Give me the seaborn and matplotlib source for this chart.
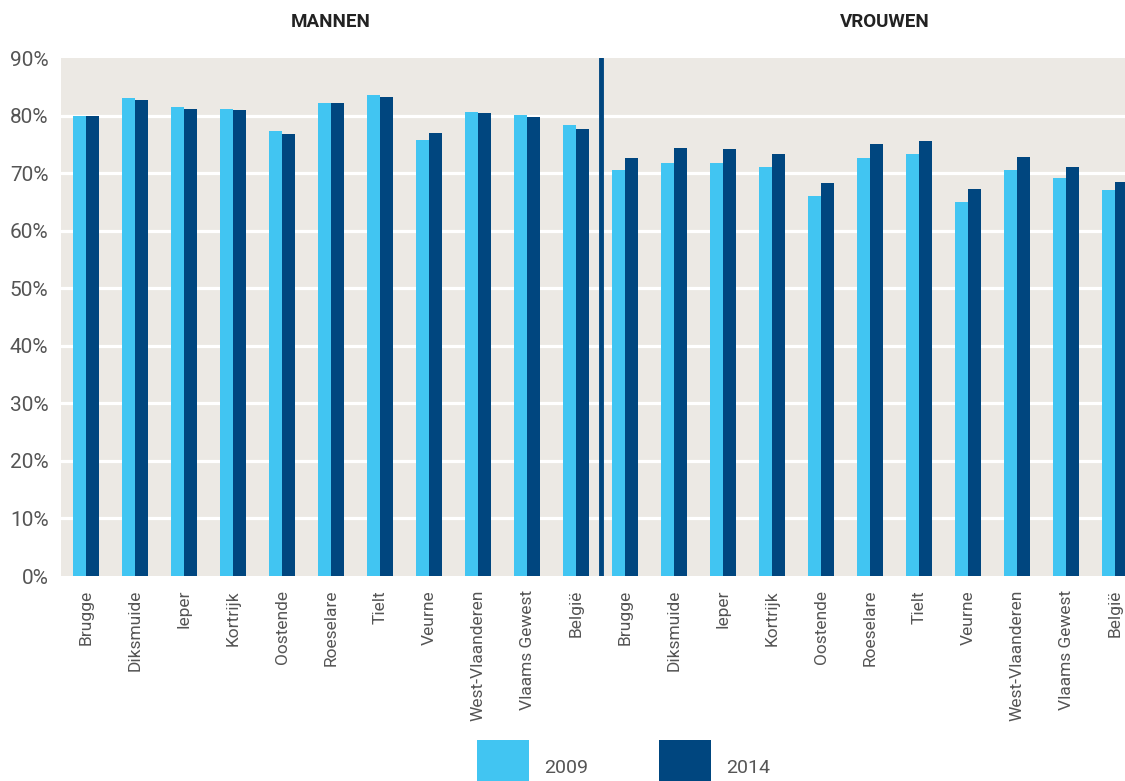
import pandas as pd
import matplotlib.pyplot as plt
import seaborn as sns
from matplotlib.patches import Rectangle

# Data (percentages)
gemeenten = ['Brugge', 'Diksmuide', 'Ieper', 'Kortrijk', 'Oostende', 'Roeselare',
             'Tielt', 'Veurne', 'West-Vlaanderen', 'Vlaams Gewest', 'België']
mannen_2009 = [80.0, 83.0, 81.4, 81.1, 77.3, 82.1, 83.5, 75.8, 80.6, 80.1, 78.3]
mannen_2014 = [80.0, 82.7, 81.1, 80.9, 76.8, 82.1, 83.2, 76.9, 80.4, 79.7, 77.6]
vrouwen_2009 = [70.6, 71.8, 71.8, 71.1, 66.1, 72.6, 73.3, 64.9, 70.6, 69.2, 67.1]
vrouwen_2014 = [72.6, 74.4, 74.2, 73.3, 68.3, 75.0, 75.6, 67.3, 72.8, 71.1, 68.5]
jaren = ['2009', '2014']
groepen = ['MANNEN', 'VROUWEN']

licht = '#41C5F2'
donker = '#00467F'
achtergrond = '#ECE9E4'

# long table for seaborn
rows = []
for groep, w09, w14 in [('M', mannen_2009, mannen_2014), ('V', vrouwen_2009, vrouwen_2014)]:
    for g, a, b in zip(gemeenten, w09, w14):
        rows.append({'key': groep + '|' + g, 'gemeente': g, 'jaar': '2009', 'waarde': a})
        rows.append({'key': groep + '|' + g, 'gemeente': g, 'jaar': '2014', 'waarde': b})
df = pd.DataFrame(rows)
order = ['M|' + g for g in gemeenten] + ['V|' + g for g in gemeenten]

sns.set_theme(style='white')
plt.rcParams['font.family'] = ['Roboto', 'DejaVu Sans']

fig = plt.figure(figsize=(11.25, 7.81), dpi=100)
ax = fig.add_axes([61 / 1125, 1 - 576 / 781, 1 - 61 / 1125, (576 - 58) / 781])
ax.set_facecolor(achtergrond)

sns.barplot(data=df, x='key', y='waarde', hue='jaar', order=order, hue_order=jaren,
            palette=[licht, donker], width=0.53, saturation=1, linewidth=0, ax=ax, zorder=3)
ax.legend_.remove()

ax.set_ylim(0, 90)
ax.set_xlim(-0.51, 21.2)
ax.set_yticks(range(0, 91, 10))
ax.set_yticklabels([f'{v}%' for v in range(0, 91, 10)], fontsize=15, color='#555555')
ax.set_xticks(range(len(order)))
ax.set_xticklabels(gemeenten * 2, rotation=90, fontsize=12.5, color='#555555')
ax.tick_params(axis='y', length=0, pad=9)
ax.tick_params(axis='x', length=0, pad=10)
ax.set_xlabel('')
ax.set_ylabel('')
for v in range(10, 90, 10):
    ax.axhline(v, color='white', lw=2.3, zorder=1)
for s in ax.spines.values():
    s.set_visible(False)

# divider between the two groups
ax.axvline(10.5, color=donker, lw=3.5, zorder=4)

# group headers
ax.text(5, 1.07, groepen[0], transform=ax.get_xaxis_transform(), ha='center', va='center',
        fontsize=13.5, fontweight='bold', color='#222222')
ax.text(16.3, 1.07, groepen[1], transform=ax.get_xaxis_transform(), ha='center', va='center',
        fontsize=13.5, fontweight='bold', color='#222222')

# legend boxes at the bottom
for x0, kleur, jaar in [(477, licht, jaren[0]), (659, donker, jaren[1])]:
    fig.add_artist(Rectangle((x0 / 1125, 0), 52 / 1125, 41 / 781, transform=fig.transFigure,
                             facecolor=kleur, edgecolor='none'))
    fig.text((x0 + 67) / 1125, 4 / 781, jaar, fontsize=14, color='#555555', ha='left',
             va='bottom')

fig.savefig('out.png', dpi=100)
